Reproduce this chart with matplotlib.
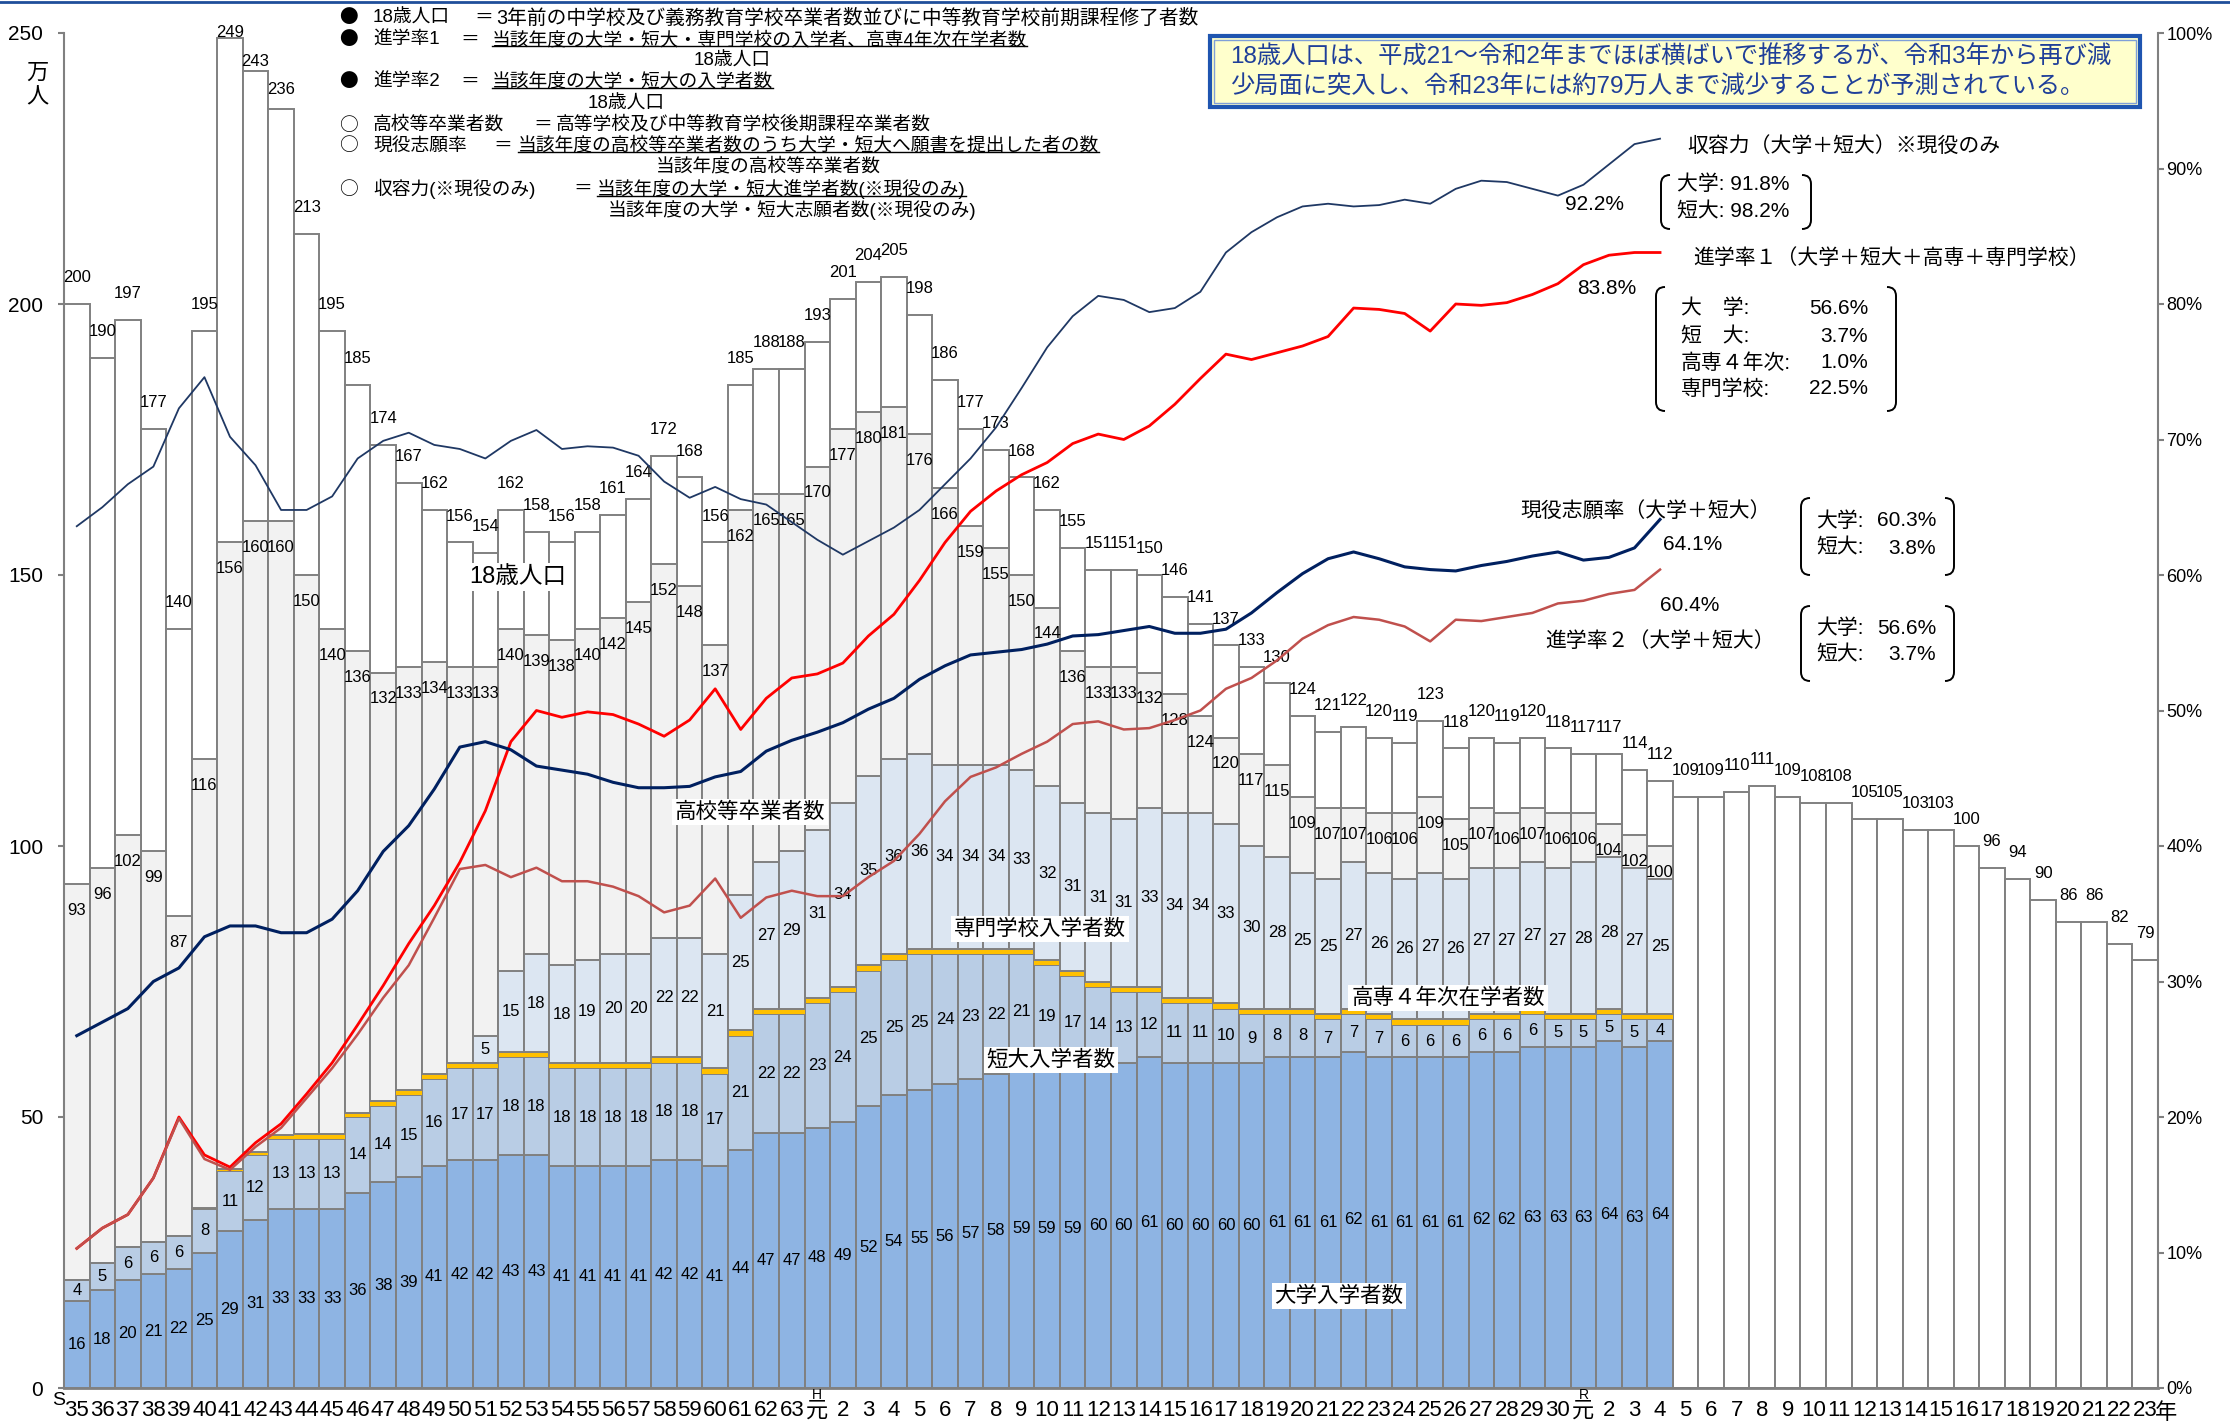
import numpy as np
import matplotlib.pyplot as plt
from matplotlib.path import Path
from matplotlib.patches import PathPatch, Rectangle
from matplotlib.lines import Line2D
import matplotlib.transforms as mtransforms

plt.rcParams['font.family'] = ['Liberation Sans', 'Noto Sans CJK JP']

## Data (万人 / %) : 昭和35～63, 平成元～30, 令和元～23
xlabels = ([str(y) for y in range(35, 64)] + ['元'] + [str(y) for y in range(2, 31)]
           + ['元'] + [str(y) for y in range(2, 24)])

pop18 = [200, 190, 197, 177, 140, 195, 249, 243, 236, 213,
         195, 185, 174, 167, 162, 156, 154, 162, 158, 156,
         158, 161, 164, 172, 168, 156, 185, 188, 188,
         193, 201, 204, 205, 198, 186, 177, 173, 168, 162,
         155, 151, 151, 150, 146, 141, 137, 133, 130, 124,
         121, 122, 120, 119, 123, 118, 120, 119, 120, 118,
         117, 117, 114, 112,
         109, 109, 110, 111, 109, 108, 108, 105, 105, 103, 103, 100, 96, 94, 90, 86, 86, 82, 79]

grad = [93, 96, 102, 99, 87, 116, 156, 160, 160, 150,
        140, 136, 132, 133, 134, 133, 133, 140, 139, 138,
        140, 142, 145, 152, 148, 137, 162, 165, 165,
        170, 177, 180, 181, 176, 166, 159, 155, 150, 144,
        136, 133, 133, 132, 128, 124, 120, 117, 115, 109,
        107, 107, 106, 106, 109, 105, 107, 106, 107, 106,
        106, 104, 102, 100]

univ = [16, 18, 20, 21, 22, 25, 29, 31, 33, 33,
        33, 36, 38, 39, 41, 42, 42, 43, 43, 41,
        41, 41, 41, 42, 42, 41, 44, 47, 47,
        48, 49, 52, 54, 55, 56, 57, 58, 59, 59,
        59, 60, 60, 61, 60, 60, 60, 60, 61, 61,
        61, 62, 61, 61, 61, 61, 62, 62, 63, 63,
        63, 64, 63, 64]

jc = [4, 5, 6, 6, 6, 8, 11, 12, 13, 13,
      13, 14, 14, 15, 16, 17, 17, 18, 18, 18,
      18, 18, 18, 18, 18, 17, 21, 22, 22,
      23, 24, 25, 25, 25, 24, 23, 22, 21, 19,
      17, 14, 13, 12, 11, 11, 10, 9, 8, 8,
      7, 7, 7, 6, 6, 6, 6, 6, 6, 5,
      5, 5, 5, 4]

kosen = [0, 0, 0, 0, 0, 0.25, 0.4, 0.5, 0.7, 0.8,
         0.8, 0.8, 0.9, 1, 1, 1, 1, 1, 1, 1,
         1, 1, 1, 1, 1, 1, 1, 1, 1,
         1, 1, 1, 1, 1, 1, 1, 1, 1, 1,
         1, 1, 1, 1, 1, 1, 1, 1, 1, 1,
         1, 1, 1, 1, 1, 1, 1, 1, 1, 1,
         1, 1, 1, 1]

senmon = [0, 0, 0, 0, 0, 0, 0, 0, 0, 0,
          0, 0, 0, 0, 0, 0, 5, 15, 18, 18,
          19, 20, 20, 22, 22, 21, 25, 27, 29,
          31, 34, 35, 36, 36, 34, 34, 34, 33, 32,
          31, 31, 31, 33, 34, 34, 33, 30, 28, 25,
          25, 27, 26, 26, 27, 26, 27, 27, 27, 27,
          28, 28, 27, 25]

capacity = [63.6, 65.0, 66.7, 68.0, 72.3, 74.6, 70.2, 68.1, 64.8, 64.8,
            65.8, 68.6, 69.9, 70.5, 69.6, 69.3, 68.6, 69.9, 70.7, 69.3,
            69.5, 69.4, 68.8, 66.9, 65.7, 66.5, 65.6, 65.2, 63.9,
            62.6, 61.5, 62.5, 63.5, 64.8, 66.7, 68.6, 70.9, 73.8, 76.8,
            79.1, 80.6, 80.3, 79.4, 79.7, 80.9, 83.8, 85.3, 86.4, 87.2,
            87.4, 87.2, 87.3, 87.7, 87.4, 88.5, 89.1, 89.0, 88.5, 88.0,
            88.8, 90.3, 91.8, 92.2]

rate1 = [10.3, 11.8, 12.8, 15.5, 20.0, 17.2, 16.3, 18.1, 19.5, 21.7,
         24.0, 26.8, 29.7, 32.8, 35.6, 38.8, 42.6, 47.7, 50.0, 49.5,
         49.9, 49.7, 49.0, 48.1, 49.3, 51.6, 48.6, 50.9, 52.4,
         52.7, 53.5, 55.5, 57.1, 59.6, 62.4, 64.7, 66.2, 67.4, 68.3,
         69.7, 70.4, 70.0, 71.0, 72.6, 74.5, 76.3, 75.9, 76.4, 76.9,
         77.6, 79.7, 79.6, 79.3, 78.0, 80.0, 79.9, 80.1, 80.7, 81.5,
         82.9, 83.6, 83.8, 83.8]

apply_rate = [26.0, 27.0, 28.0, 30.0, 31.0, 33.3, 34.1, 34.1, 33.6, 33.6,
              34.6, 36.7, 39.6, 41.5, 44.2, 47.3, 47.7, 47.1, 45.9, 45.6,
              45.3, 44.7, 44.3, 44.3, 44.4, 45.1, 45.5, 47.0, 47.8,
              48.4, 49.1, 50.1, 50.9, 52.3, 53.3, 54.1, 54.3, 54.5, 54.9,
              55.5, 55.6, 55.9, 56.2, 55.7, 55.7, 56.0, 57.2, 58.7, 60.1,
              61.2, 61.7, 61.2, 60.6, 60.4, 60.3, 60.7, 61.0, 61.4, 61.7,
              61.1, 61.3, 62.0, 64.1]

rate2 = [10.3, 11.8, 12.8, 15.5, 19.9, 16.9, 16.1, 17.8, 19.2, 21.4,
         23.6, 26.1, 28.8, 31.2, 34.7, 38.3, 38.6, 37.7, 38.4, 37.4,
         37.4, 37.0, 36.3, 35.1, 35.6, 37.6, 34.7, 36.2, 36.7,
         36.3, 36.3, 37.7, 38.9, 40.9, 43.3, 45.1, 45.8, 46.8, 47.7,
         49.0, 49.2, 48.6, 48.7, 49.3, 50.0, 51.6, 52.4, 53.7, 55.3,
         56.3, 56.9, 56.7, 56.2, 55.1, 56.7, 56.6, 56.9, 57.2, 57.9,
         58.1, 58.6, 58.9, 60.4]

## figure in pixel terms (2230 x 1426)
W, H = 2230, 1426
fig = plt.figure(figsize=(W / 100, H / 100), dpi=100)
ax = fig.add_axes([64 / W, 1 - 1388 / H, (2158 - 64) / W, (1388 - 33) / H])

def ftext(px, py, s, **kw):
    kw.setdefault('va', 'center')
    return fig.text(px / W, 1 - py / H, s, **kw)

x = np.arange(len(pop18))
xa = x[:len(univ)]
edge = '#808080'

ax.bar(x, pop18, width=1.0, color='white', edgecolor=edge, linewidth=1.4, zorder=1)
ax.bar(xa, grad, width=1.0, color='#f2f2f2', edgecolor=edge, linewidth=1.4, zorder=2)
bottom = np.zeros(len(xa))
for vals, col, ec in [(univ, '#8eb4e3', edge), (jc, '#b9cde5', edge),
                      (kosen, '#ffc000', 'none'), (senmon, '#dce6f2', edge)]:
    vals = np.array(vals, dtype=float)
    ax.bar(xa, vals, width=1.0, bottom=bottom, color=col, edgecolor=ec, linewidth=1.4, zorder=3)
    bottom += vals

## data labels
for i, v in enumerate(pop18):
    off = min(19, max(4.5, (250 - v) * 5.42 * 0.25 / 1.389))
    ax.annotate(str(v), (i, v), xytext=(0, off), textcoords='offset points',
                ha='center', va='center', fontsize=12, zorder=5)
for i, v in enumerate(grad):
    ax.annotate(str(v), (i, v), xytext=(0, -19), textcoords='offset points',
                ha='center', va='center', fontsize=12, zorder=5)
b0 = np.zeros(len(xa))
for vals in [univ, jc]:
    for i, v in enumerate(vals):
        ax.text(i, b0[i] + v / 2, str(v), ha='center', va='center', fontsize=12, zorder=5)
    b0 += np.array(vals)
b0 += np.array(kosen)
for i, v in enumerate(senmon):
    if v > 0:
        ax.text(i, b0[i] + v / 2, str(v), ha='center', va='center', fontsize=12, zorder=5)

ax.set_xlim(-0.5, len(pop18) - 0.5)
ax.set_ylim(0, 250)
ax.set_yticks(np.arange(0, 251, 50))
ax.tick_params(axis='y', labelsize=15, length=4, color=edge, width=1.5, pad=11)
ax.set_xticks(x)
ax.set_xticklabels(xlabels, fontsize=16)
ax.tick_params(axis='x', length=0, pad=9)
for s in ['top', 'right']:
    ax.spines[s].set_visible(False)
ax.spines['left'].set_color(edge)
ax.spines['left'].set_linewidth(1.5)
ax.spines['bottom'].set_color(edge)
ax.spines['bottom'].set_linewidth(2)

tr = mtransforms.blended_transform_factory(ax.transData, ax.transAxes)
ax.text(-0.72, -0.009, 'S', transform=tr, ha='center', va='center', fontsize=14)
ax.text(29, -0.005, 'H', transform=tr, ha='center', va='center', fontsize=10)
ax.text(59, -0.005, 'R', transform=tr, ha='center', va='center', fontsize=10)
ax.text(81.8, -0.0185, '年', transform=tr, ha='center', va='center', fontsize=16)

## rate lines (right axis)
ax2 = ax.twinx()
ax2.set_ylim(0, 100)
ax2.plot(xa, capacity, color='#1f3864', lw=1.3)
ax2.plot(xa, rate1, color='#ff0000', lw=2)
ax2.plot(xa, apply_rate, color='#002060', lw=2.2)
ax2.plot(xa, rate2, color='#c0504d', lw=1.8)
ax2.set_yticks(np.arange(0, 101, 10))
ax2.set_yticklabels([f'{t}%' for t in range(0, 101, 10)])
ax2.tick_params(axis='y', labelsize=13, length=4, color=edge, width=1.5, pad=2)
for s in ['top', 'left', 'bottom']:
    ax2.spines[s].set_visible(False)
ax2.spines['right'].set_color(edge)
ax2.spines['right'].set_linewidth(1.5)

## unit
ftext(37, 73, '万', fontsize=16, ha='center')
ftext(37, 98, '人', fontsize=16, ha='center')

## series names
lab_bg = dict(facecolor='white', edgecolor='none', pad=2)
ftext(518, 577, '18歳人口', fontsize=17, ha='center', bbox=lab_bg)
ftext(750, 812, '高校等卒業者数', fontsize=15.5, ha='center', bbox=lab_bg)
ftext(1040, 929, '専門学校入学者数', fontsize=15.5, ha='center', bbox=lab_bg)
ftext(1051, 1060, '短大入学者数', fontsize=15.5, ha='center', bbox=lab_bg)
ftext(1448, 998, '高専４年次在学者数', fontsize=15.5, ha='center', bbox=lab_bg)
ftext(1339, 1296, '大学入学者数', fontsize=15.5, ha='center', bbox=lab_bg)

## definitions
fs = 13.5
cjk = ['Noto Sans CJK JP']
under = []
ftext(348, 18, '●', fontsize=fs, ha='center', family=cjk)
ftext(373, 18, '18歳人口', fontsize=fs)
ftext(484, 18, '＝', fontsize=fs, ha='center')
ftext(496, 18, '3年前の中学校及び義務教育学校卒業者数並びに中等教育学校前期課程修了者数', fontsize=14.2)
ftext(348, 40, '●', fontsize=fs, ha='center', family=cjk)
ftext(373, 40, '進学率1', fontsize=fs)
ftext(470, 40, '＝', fontsize=fs, ha='center')
under.append(ftext(492, 40, '当該年度の大学・短大・専門学校の入学者、高専4年次在学者数', fontsize=fs))
ftext(732, 61, '18歳人口', fontsize=fs, ha='center')
ftext(348, 82, '●', fontsize=fs, ha='center', family=cjk)
ftext(373, 82, '進学率2', fontsize=fs)
ftext(470, 82, '＝', fontsize=fs, ha='center')
under.append(ftext(492, 82, '当該年度の大学・短大の入学者数', fontsize=fs))
ftext(626, 104, '18歳人口', fontsize=fs, ha='center')
ftext(348, 125, '○', fontsize=fs, ha='center', family=cjk)
ftext(373, 125, '高校等卒業者数', fontsize=fs)
ftext(543, 125, '＝', fontsize=fs, ha='center')
ftext(556, 125, '高等学校及び中等教育学校後期課程卒業者数', fontsize=fs)
ftext(348, 146, '○', fontsize=fs, ha='center', family=cjk)
ftext(373, 146, '現役志願率', fontsize=fs)
ftext(503, 146, '＝', fontsize=fs, ha='center')
under.append(ftext(518, 146, '当該年度の高校等卒業者数のうち大学・短大へ願書を提出した者の数', fontsize=fs))
ftext(768, 167, '当該年度の高校等卒業者数', fontsize=fs, ha='center')
ftext(348, 189, '○', fontsize=fs, ha='center', family=cjk)
ftext(373, 189, '収容力(※現役のみ)', fontsize=fs)
ftext(583, 189, '＝', fontsize=fs, ha='center')
under.append(ftext(597, 189, '当該年度の大学・短大進学者数(※現役のみ)', fontsize=fs))
ftext(792, 210, '当該年度の大学・短大志願者数(※現役のみ)', fontsize=fs, ha='center')

## message box
fig.add_artist(Rectangle((1210 / W, 1 - 107 / H), 930 / W, 71 / H, transform=fig.transFigure,
                         facecolor='#ffffcc', edgecolor='#1f55b0', lw=3))
fig.add_artist(Rectangle((1214 / W, 1 - 103 / H), 922 / W, 63 / H, transform=fig.transFigure,
                         facecolor='none', edgecolor='#7f9fd8', lw=1))
ftext(1230, 57, '18歳人口は、平成21～令和2年までほぼ横ばいで推移するが、令和3年から再び減',
      fontsize=17.5, color='#1f3f99')
ftext(1230, 87, '少局面に突入し、令和23年には約79万人まで減少することが予測されている。',
      fontsize=17.5, color='#1f3f99')

## right annotations
def bracket(x0, y0, x1, y1, r=9):
    P = lambda px, py: (px / W, 1 - py / H)
    codes = [Path.MOVETO, Path.CURVE3, Path.CURVE3, Path.LINETO, Path.CURVE3, Path.CURVE3]
    left = [P(x0 + r, y0), P(x0, y0), P(x0, y0 + r), P(x0, y1 - r), P(x0, y1), P(x0 + r, y1)]
    right = [P(x1 - r, y0), P(x1, y0), P(x1, y0 + r), P(x1, y1 - r), P(x1, y1), P(x1 - r, y1)]
    for pts in (left, right):
        fig.add_artist(PathPatch(Path(pts, codes), fill=False, lw=1.4, edgecolor='black',
                                 transform=fig.transFigure))

afs = 15
ftext(1687, 146, '収容力（大学＋短大）※現役のみ', fontsize=afs)
ftext(1594, 205, '92.2%', fontsize=afs, ha='center')
bracket(1661, 175, 1811, 229)
ftext(1677, 184, '大学: 91.8%', fontsize=afs)
ftext(1677, 212, '短大: 98.2%', fontsize=afs)

ftext(1693, 258, '進学率１（大学＋短大＋高専＋専門学校）', fontsize=afs)
ftext(1607, 288, '83.8%', fontsize=afs, ha='center')
bracket(1656, 287, 1896, 411)
for yy, k, v in [(308, '大　学:', '56.6%'), (337, '短　大:', '3.7%'),
                 (363, '高専４年次:', '1.0%'), (389, '専門学校:', '22.5%')]:
    ftext(1681, yy, k, fontsize=afs)
    ftext(1868, yy, v, fontsize=afs, ha='right')

ftext(1771, 511, '現役志願率（大学＋短大）', fontsize=afs, ha='right')
ftext(1693, 545, '64.1%', fontsize=afs, ha='center')
bracket(1801, 498, 1954, 575)
ftext(1816, 521, '大学:', fontsize=afs)
ftext(1936, 521, '60.3%', fontsize=afs, ha='right')
ftext(1816, 548, '短大:', fontsize=afs)
ftext(1936, 548, '3.8%', fontsize=afs, ha='right')

ftext(1690, 605, '60.4%', fontsize=afs, ha='center')
ftext(1775, 641, '進学率２（大学＋短大）', fontsize=afs, ha='right')
bracket(1801, 606, 1954, 681)
ftext(1816, 628, '大学:', fontsize=afs)
ftext(1936, 628, '56.6%', fontsize=afs, ha='right')
ftext(1816, 655, '短大:', fontsize=afs)
ftext(1936, 655, '3.7%', fontsize=afs, ha='right')

## top rule
fig.add_artist(Line2D([0, 1], [1 - 1.5 / H] * 2, color='#1f4e9a', lw=2, transform=fig.transFigure))

## underlines under numerators
fig.canvas.draw()
rend = fig.canvas.get_renderer()
for t in under:
    bb = t.get_window_extent(rend)
    yy = bb.y0 + 3
    fig.add_artist(Line2D([bb.x0 / W, bb.x1 / W], [yy / H, yy / H], color='black', lw=1,
                          transform=fig.transFigure))

fig.savefig('out.png', dpi=100)
